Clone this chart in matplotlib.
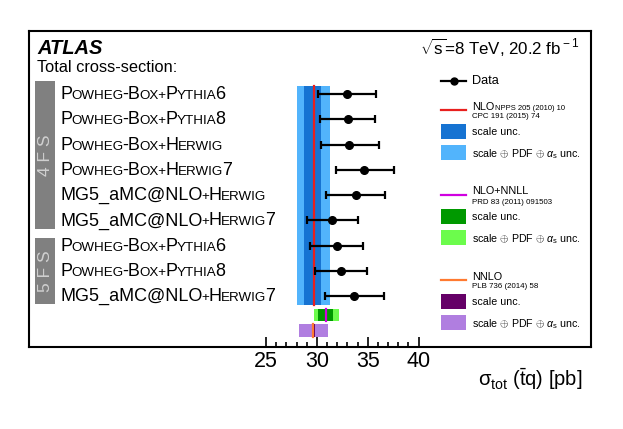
import re
import numpy as np
import matplotlib
matplotlib.use("Agg")
import matplotlib.pyplot as plt
from matplotlib.patches import Rectangle
from matplotlib.lines import Line2D
from matplotlib.offsetbox import TextArea, HPacker, AnnotationBbox
from matplotlib.transforms import Affine2D
from matplotlib.ticker import FixedLocator

plt.rcParams['font.family'] = ['Liberation Sans', 'DejaVu Sans']
plt.rcParams['mathtext.fontset'] = 'custom'
plt.rcParams['mathtext.rm'] = 'Liberation Sans'
plt.rcParams['mathtext.it'] = 'Liberation Sans:italic'
plt.rcParams['mathtext.bf'] = 'Liberation Sans:bold'

# ---------------- data ----------------
generators = ["P{OWHEG}-B{OX+}P{YTHIA}6", "P{OWHEG}-B{OX+}P{YTHIA}8",
              "P{OWHEG}-B{OX+}H{ERWIG}", "P{OWHEG}-B{OX+}H{ERWIG}7",
              "MG5_aMC@NLO{+}H{ERWIG}", "MG5_aMC@NLO{+}H{ERWIG}7",
              "P{OWHEG}-B{OX+}P{YTHIA}6", "P{OWHEG}-B{OX+}P{YTHIA}8",
              "MG5_aMC@NLO{+}H{ERWIG}7"]
schemes = ["4 F S", "5 F S"]
xsec = [32.93, 33.05, 33.18, 34.63, 33.81, 31.48, 31.97, 32.33, 33.64]
err_down = [2.85, 2.75, 2.78, 2.72, 2.92, 2.42, 2.65, 2.49, 2.84]
err_up = [2.85, 2.66, 2.92, 2.91, 2.91, 2.53, 2.53, 2.62, 2.95]

nlo_value = 29.71
nlo_scale = [28.75, 30.38]
nlo_total = [28.02, 31.29]
nnll_value = 30.86
nnll_scale = [30.11, 31.61]
nnll_total = [29.71, 32.20]
nnlo_value = 29.65
nnlo_scale = [29.52, 29.81]
nnlo_total = [28.24, 31.12]

xticks = [25, 30, 35, 40]
xminor = [26, 27, 28, 29, 31, 32, 33, 34, 36, 37, 38, 39]

# ---------------- colours ----------------
c_blue_d, c_blue_l = "#1673d2", "#52b4fc"
c_green_d, c_green_l = "#009900", "#6cfc4c"
c_purp_d, c_purp_l = "#650067", "#b07ee0"
c_red, c_mag, c_orange = "#e8201e", "#d000e0", "#ff7a30"

W, H = 623, 429
fig = plt.figure(figsize=(W / 100, H / 100), dpi=100)
ax = fig.add_axes([29 / W, 1 - 347 / H, (591 - 29) / W, (347 - 31) / H])
px = Affine2D().scale(1 / W, -1 / H).translate(0, 1) + fig.transFigure

rows = np.arange(len(xsec))
ax.set_xlim(1.72, 56.93)
ax.set_ylim(10.0, -2.49)

# bands
yb0, yb1 = -0.32, 8.35
ax.fill_betweenx([yb0, yb1], nlo_total[0], nlo_total[1], color=c_blue_l, lw=0, zorder=1)
ax.fill_betweenx([yb0, yb1], nlo_scale[0], nlo_scale[1], color=c_blue_d, lw=0, zorder=2)
ax.plot([nlo_value, nlo_value], [yb0, yb1], color=c_red, lw=1.6, zorder=3)

yg0, yg1 = 8.51, 8.98
ax.fill_betweenx([yg0, yg1], nnll_total[0], nnll_total[1], color=c_green_l, lw=0, zorder=1)
ax.fill_betweenx([yg0, yg1], nnll_scale[0], nnll_scale[1], color=c_green_d, lw=0, zorder=2)
ax.plot([nnll_value, nnll_value], [yg0, yg1], color=c_mag, lw=1.6, zorder=3)

yp0, yp1 = 9.09, 9.59
ax.fill_betweenx([yp0, yp1], nnlo_total[0], nnlo_total[1], color=c_purp_l, lw=0, zorder=1)
ax.fill_betweenx([yp0, yp1], nnlo_scale[0], nnlo_scale[1], color=c_purp_d, lw=0, zorder=2)
ax.plot([nnlo_value, nnlo_value], [yp0, yp1], color=c_orange, lw=1.6, zorder=3)

ax.errorbar(xsec, rows, xerr=[err_down, err_up], fmt='o', color='black',
            ms=5.5, lw=1.6, capsize=3, capthick=1.6, zorder=5)

# axes style
ax.set_xticks(xticks)
ax.xaxis.set_minor_locator(FixedLocator(xminor))
ax.set_yticks([])
ax.tick_params(axis='x', which='major', direction='in', length=7, width=1.2,
               labelsize=15.5, pad=3, top=False)
ax.tick_params(axis='x', which='minor', direction='in', length=3.5, width=1.2, top=False)
for s in ax.spines.values():
    s.set_linewidth(1.5)

# generator labels with small caps
BIG, SMALL = 13, 9.6
def smallcaps_box(label):
    parts = re.split(r'(\{[^}]*\})', label)
    kids = []
    for p in parts:
        if not p:
            continue
        if p.startswith('{'):
            kids.append(TextArea(p[1:-1], textprops=dict(fontsize=SMALL, color='black')))
        else:
            kids.append(TextArea(p, textprops=dict(fontsize=BIG, color='black')))
    return HPacker(children=kids, align="baseline", pad=0, sep=-0.6)

ytr = ax.get_yaxis_transform()
for r, lab in zip(rows, generators):
    ab = AnnotationBbox(smallcaps_box(lab), ((60 - 29) / (591 - 29), r + 0.02),
                        xycoords=ytr, box_alignment=(0, 0.5), frameon=False, pad=0)
    ax.add_artist(ab)

# scheme boxes
box_px = [(81, 229), (238, 304)]
for (y0, y1), name in zip(box_px, schemes):
    fig.patches.append(Rectangle((35, y1), 20, y0 - y1, transform=px,
                                 color="#808080", lw=0))
    fig.text(45.5, (y0 + y1) / 2, name, transform=px, rotation=90, ha='center',
             va='center', color="#d0d0d0", fontsize=12.5)

# header texts
fig.text(37, 49, "ATLAS", transform=px, fontsize=14.5, fontweight='bold',
         fontstyle='italic', va='center', ha='left')
fig.text(37, 68, "Total cross-section:", transform=px, fontsize=11.8,
         va='center', ha='left')
fig.text(579, 48, r"$\sqrt{\rm s}$=8 TeV, 20.2 fb$^{\rm -1}$", transform=px,
         fontsize=12.2, va='center', ha='right')
fig.text(582, 379, "σ$_{\\rm tot}$ ($\\bar{\\rm t}$q) [pb]", transform=px,
         fontsize=14.5, va='center', ha='right')

# legend (manual)
LX0, LX1, TX = 441, 466, 472
fig.lines.append(Line2D([LX0, LX1], [80.7, 80.7], transform=px, color='black', lw=1.6))
fig.lines.append(Line2D([(LX0 + LX1) / 2], [80.7], transform=px, color='black',
                        marker='o', ms=5))
fig.text(TX, 80.7, "Data", transform=px, fontsize=9.2, va='center')

def legend_group(ytop, line_color, name, ref1, ref2, dark, light):
    fig.lines.append(Line2D([LX0, LX1], [ytop + 6, ytop + 6], transform=px,
                            color=line_color, lw=1.6))
    fig.text(TX, ytop + 2.5, name, transform=px, fontsize=7.8, va='center')
    if ref1:
        fig.text(TX + 23, ytop + 4, ref1, transform=px, fontsize=5.5, va='center')
    fig.text(TX, ytop + 13, ref2, transform=px, fontsize=5.7, va='center')
    fig.patches.append(Rectangle((LX0, ytop + 35), LX1 - LX0, -15, transform=px,
                                 color=dark, lw=0))
    fig.text(TX, ytop + 28, "scale unc.", transform=px, fontsize=7.7, va='center')
    fig.patches.append(Rectangle((LX0, ytop + 56), LX1 - LX0, -15, transform=px,
                                 color=light, lw=0))
    fig.text(TX, ytop + 50.5, r"scale $\oplus$ PDF $\oplus$ $\alpha_{\rm s}$ unc.",
             transform=px, fontsize=7.7, va='center')

legend_group(104, c_red, "NLO", "NPPS 205 (2010) 10", "CPC 191 (2015) 74",
             c_blue_d, c_blue_l)
legend_group(189, c_mag, "NLO+NNLL", None, "PRD 83 (2011) 091503",
             c_green_d, c_green_l)
legend_group(274, c_orange, "NNLO", None, "PLB 736 (2014) 58",
             c_purp_d, c_purp_l)

fig.savefig("out.png", dpi=100)
